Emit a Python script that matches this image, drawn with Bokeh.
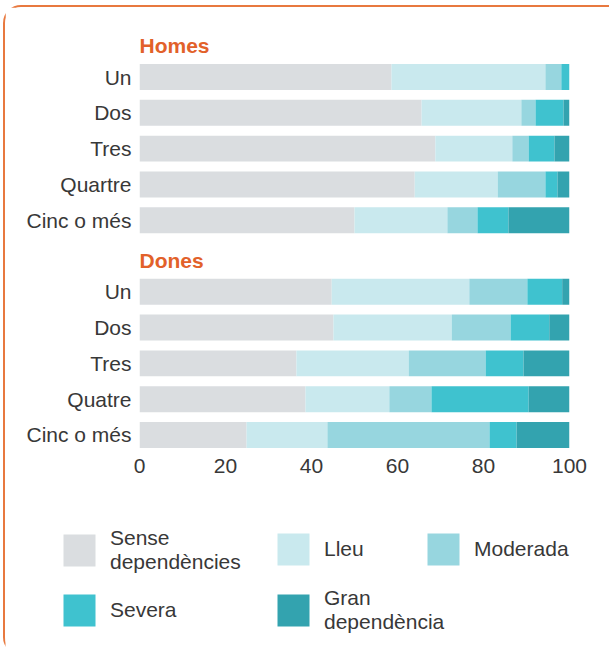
import numpy as np
from bokeh.plotting import figure
from bokeh.models import (ColumnDataSource, Range1d, FixedTicker, Legend, LegendItem)
from bokeh.core.properties import value
from bokeh.embed import file_html
from bokeh.resources import INLINE

# ---------------- data ----------------
group_titles = ["Homes", "Dones"]
categories_homes = ["Un", "Dos", "Tres", "Quartre", "Cinc o més"]
categories_dones = ["Un", "Dos", "Tres", "Quatre", "Cinc o més"]
levels = ["Sense dependències", "Lleu", "Moderada", "Severa", "Gran dependència"]
legend_labels = ["Sense\ndependències", "Lleu", "Moderada", "Severa", "Gran\ndependència"]

homes_sense = [58.6, 65.6, 68.8, 64.0, 50.0]
homes_lleu = [35.8, 23.2, 17.9, 19.3, 21.6]
homes_moderada = [3.7, 3.3, 3.8, 11.1, 7.0]
homes_severa = [1.9, 6.5, 6.0, 2.8, 7.2]
homes_gran = [0.0, 1.4, 3.5, 2.8, 14.2]

dones_sense = [44.7, 45.1, 36.5, 38.6, 24.9]
dones_lleu = [32.0, 27.5, 26.1, 19.5, 18.8]
dones_moderada = [13.5, 13.7, 17.9, 9.8, 37.7]
dones_severa = [8.1, 9.0, 8.8, 22.6, 6.3]
dones_gran = [1.7, 4.7, 10.7, 9.5, 12.3]

x_ticks = [0, 20, 40, 60, 80, 100]

colors = ["#DADDE0", "#C9E9EE", "#97D6DF", "#3FC2CF", "#33A3AF"]
orange = "#E2612A"
border_orange = "#E8793F"
text_color = "#383838"
FONT = "Liberation Sans"

# ---------------- source ----------------
homes_rows = list(range(len(categories_homes)))
dones_rows = [len(categories_homes) + 1 + i for i in range(len(categories_dones))]
data = {
    "y": homes_rows + dones_rows,
    levels[0]: homes_sense + dones_sense,
    levels[1]: homes_lleu + dones_lleu,
    levels[2]: homes_moderada + dones_moderada,
    levels[3]: homes_severa + dones_severa,
    levels[4]: homes_gran + dones_gran,
}
source = ColumnDataSource(data)

# ---------------- main figure ----------------
p = figure(width=606, height=483, output_backend="svg", toolbar_location=None,
           x_range=Range1d(0, 100), y_range=Range1d(10.49, -1.44),
           min_border_left=134, min_border_right=42, min_border_top=18, min_border_bottom=38)
p.hbar_stack(levels, y="y", height=0.726, color=colors, source=source, line_color=None)

overrides = {}
for r, lab in zip(homes_rows, categories_homes):
    overrides[r] = lab
for r, lab in zip(dones_rows, categories_dones):
    overrides[r] = lab

p.yaxis.ticker = FixedTicker(ticks=homes_rows + dones_rows)
p.yaxis.major_label_overrides = overrides
p.xaxis.ticker = FixedTicker(ticks=x_ticks)
for ax in (p.xaxis, p.yaxis):
    ax.axis_line_color = None
    ax.major_tick_line_color = None
    ax.minor_tick_line_color = None
    ax.major_label_text_font = FONT
    ax.major_label_text_font_size = "21px"
    ax.major_label_text_color = text_color
p.yaxis.major_label_standoff = 2
p.xaxis.major_label_standoff = 0

p.xgrid.grid_line_color = None
p.ygrid.grid_line_color = None
p.outline_line_color = None

p.text(x=[0, 0], y=[-0.88, len(categories_homes) + 0.13], text=group_titles,
       text_font=value(FONT), text_font_size="21px", text_font_style="bold",
       text_color=orange, text_align="left", text_baseline="middle")

p.styles = {
    "border-top": "2px solid " + border_orange,
    "border-left": "2px solid " + border_orange,
    "border-top-left-radius": "18px",
    "margin-left": "3px",
    "margin-top": "5px",
}

# ---------------- legend figure ----------------
lf = figure(width=606, height=167, output_backend="svg", toolbar_location=None,
            x_range=Range1d(0, 1), y_range=Range1d(0, 1),
            x_axis_type=None, y_axis_type=None, min_border=0)
lf.xgrid.grid_line_color = None
lf.ygrid.grid_line_color = None
lf.outline_line_color = None

nan = np.array([np.nan])
locs = [(54, 81), (268, 86), (418, 86), (54, 25), (268, 21)]
for lab, c, loc in zip(legend_labels, colors, locs):
    r = lf.quad(left=nan, right=nan, top=nan, bottom=nan, fill_color=c, line_color=None)
    lg = Legend(items=[LegendItem(label=lab, renderers=[r])], location=loc,
                glyph_width=40, glyph_height=40, label_standoff=11,
                label_text_font=FONT, label_text_font_size="21px",
                label_text_line_height=1.25,
                label_text_color=text_color, padding=0, margin=0,
                border_line_color=None, background_fill_alpha=0)
    lf.add_layout(lg)

lf.styles = {
    "border-left": "2px solid " + border_orange,
    "border-bottom-left-radius": "18px",
    "margin-left": "3px",
}

open("out.html", "w").write(file_html([p, lf], INLINE))
